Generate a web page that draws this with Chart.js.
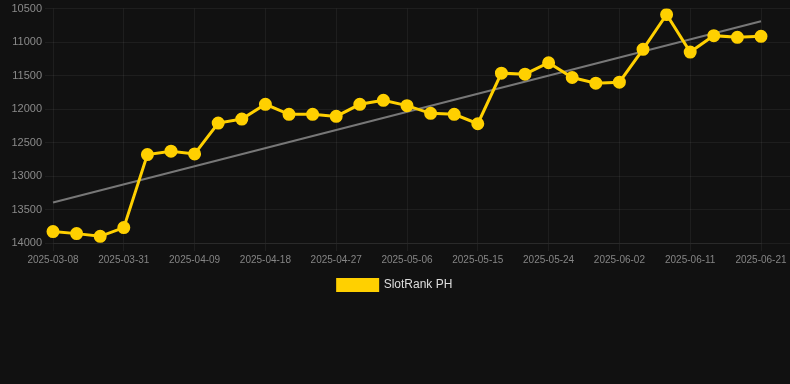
<!DOCTYPE html>
<html>
<head>
<meta charset="utf-8">
<script src="https://cdn.jsdelivr.net/npm/chart.js@4.4.1/dist/chart.umd.min.js"></script>
<style>
    html, body { margin: 0; padding: 0; background: #111111; }
    .chart-box { position: relative; width: 790px; height: 301px; }
</style>
</head>
<body>
<div class="chart-box"><canvas id="rankChart"></canvas></div>
<script>
// fechas del eje x (solo se ven una de cada tres)
const dates = ['2025-03-08', '2025-03-15', '2025-03-23', '2025-03-31', '2025-04-03', '2025-04-06',
    '2025-04-09', '2025-04-12', '2025-04-15', '2025-04-18', '2025-04-21', '2025-04-24',
    '2025-04-27', '2025-04-30', '2025-05-03', '2025-05-06', '2025-05-09', '2025-05-12',
    '2025-05-15', '2025-05-18', '2025-05-21', '2025-05-24', '2025-05-27', '2025-05-30',
    '2025-06-02', '2025-06-05', '2025-06-08', '2025-06-11', '2025-06-14', '2025-06-18', '2025-06-21'];

// posición en el ranking
const rankValues = [13830, 13860, 13900, 13770, 12680, 12630, 12670, 12210, 12150, 11930,
    12080, 12080, 12110, 11930, 11870, 11950, 12065, 12080, 12220, 11465,
    11480, 11310, 11530, 11615, 11600, 11110, 10590, 11150, 10905, 10930, 10915];

// línea de tendencia: valor inicial y final
const trendEnds = [13395, 10690];

const yTicks = { min: 10500, max: 14000, step: 500 };

const gold = '#FFD000';
const gridColor = 'rgba(255, 255, 255, 0.055)';
const font = 'Liberation Sans, Arial, sans-serif';

const trendData = dates.map((_, i) => i === 0 ? trendEnds[0] : (i === dates.length - 1 ? trendEnds[1] : null));

new Chart(document.getElementById('rankChart').getContext('2d'), {
    type: 'line',
    data: {
        labels: dates,
        datasets: [{
            label: 'SlotRank PH',
            data: rankValues,
            borderColor: gold,
            backgroundColor: gold,
            borderWidth: 3,
            pointRadius: 5,
            pointBackgroundColor: gold,
            pointBorderColor: gold,
            tension: 0
        }, {
            label: 'trend',
            data: trendData,
            spanGaps: true,
            borderColor: '#777777',
            borderWidth: 2,
            pointRadius: 0,
            fill: false
        }]
    },
    options: {
        responsive: true,
        maintainAspectRatio: false,
        animation: false,
        layout: { padding: { top: -2 } },
        scales: {
            x: {
                grid: { color: gridColor },
                border: { color: gridColor },
                ticks: {
                    color: '#858585',
                    font: { family: font, size: 10 },
                    maxRotation: 0,
                    autoSkip: true,
                    maxTicksLimit: 11
                }
            },
            y: {
                reverse: true,
                min: yTicks.min,
                max: yTicks.max,
                afterFit: axis => { axis.width = 53; },
                grid: { color: gridColor },
                border: { display: false },
                ticks: {
                    stepSize: yTicks.step,
                    color: '#8a8a8a',
                    font: { family: font, size: 11, lineHeight: 1 },
                    callback: v => String(v)
                }
            },
            yRight: {
                position: 'right',
                reverse: true,
                min: yTicks.min,
                max: yTicks.max,
                grid: { color: gridColor, drawOnChartArea: false, tickLength: 29 },
                border: { display: false },
                ticks: { stepSize: yTicks.step, display: false }
            }
        },
        plugins: {
            legend: {
                position: 'bottom',
                labels: {
                    color: '#dddddd',
                    font: { family: font, size: 12 },
                    boxWidth: 40,
                    boxHeight: 11,
                    filter: item => item.text !== 'trend'
                }
            },
            tooltip: { enabled: false }
        }
    }
});
</script>
</body>
</html>
